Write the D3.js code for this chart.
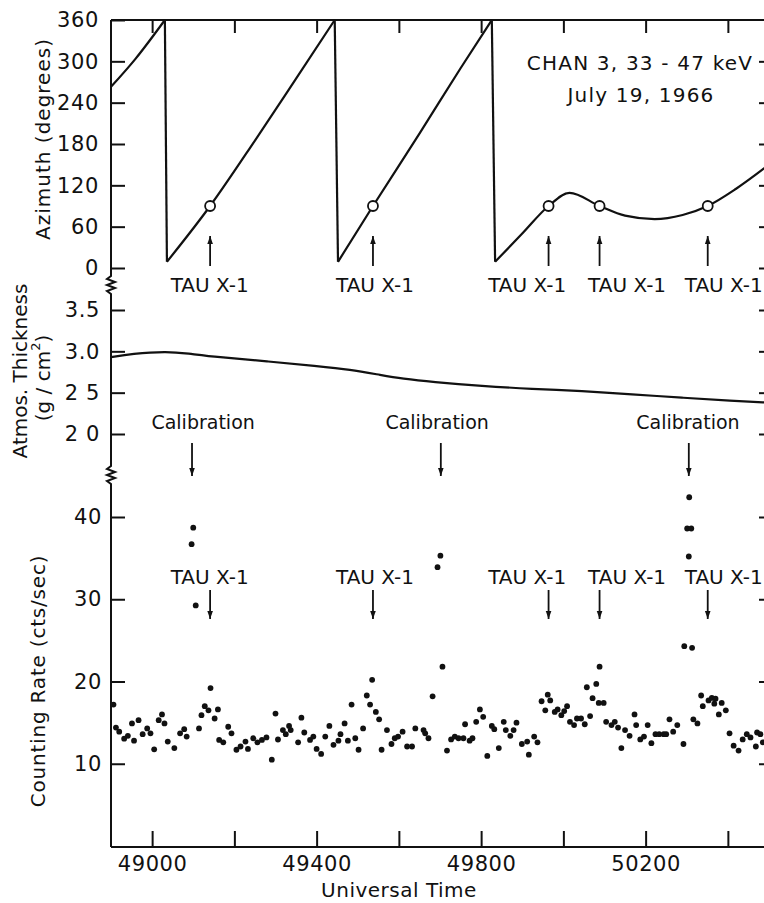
<!DOCTYPE html>
<html>
<head>
<meta charset="utf-8">
<title>Tau X-1 scan</title>
<style type="text/css">
  html, body {margin:0px; padding:0px; background:#fff;}
  svg {display:block; background:#fff;}
  text {font-family: "DejaVu Sans", sans-serif; fill:#111;}
</style>
</head>
<body>

<svg></svg>

<script src="https://d3js.org/d3.v7.min.js"></script>
<script type="text/javascript">

  // ---- data ----
  // azimuth (degrees) vs universal time, one array per sweep
  const azSweep1 = [[48900, 263], [48960, 304], [49031, 360]];
  const azSweep2 = [[49036, 9], [49141, 90], [49250, 185], [49350, 275], [49444, 360]];
  const azSweep3 = [[49452, 9], [49537, 90], [49650, 195], [49750, 290], [49826, 360]];
  const azSweep4 = [[49834, 9], [49900, 50], [49964, 90], [50015, 109], [50088, 90], [50150, 76],
                    [50222, 71], [50290, 77], [50351, 90], [50420, 115], [50500, 150]];

  // Tau X-1 crossings (circles + arrows) and label positions
  const tauTimes = [49141, 49537, 49964, 50088, 50351];
  const tauAzimuth = [90, 90, 90, 90, 90];
  const tauLabelTimes = [49140, 49542, 49912, 50155, 50390];

  // calibration marks
  const calTimes = [49097, 49702, 50305];
  const calLabelTimes = [49124, 49693, 50303];

  // atmospheric thickness (g/cm2)
  const atmTime = [48900, 48950, 49036, 49085, 49158, 49279, 49401, 49481, 49559, 49608,
                   49681, 49802, 49924, 50045, 50167, 50288, 50410, 50500];
  const atmValue = [2.93, 2.97, 3.0, 2.975, 2.93, 2.88, 2.82, 2.78, 2.71, 2.67,
                    2.63, 2.58, 2.545, 2.52, 2.48, 2.44, 2.40, 2.38];

  // counting rate (cts/sec)
  const countTime = [48906, 48912, 48920, 48932, 48941, 48951, 48956, 48967, 48977, 48988,
    48996, 49005, 49016, 49024, 49030, 49038, 49054, 49068, 49078, 49084,
    49096, 49100, 49106,
    49114, 49120, 49128, 49137, 49142, 49152, 49160, 49163, 49173, 49185,
    49193, 49205, 49215, 49227, 49233, 49246, 49256, 49267, 49278, 49291,
    49300, 49306, 49318, 49325, 49333, 49337, 49355, 49363, 49370, 49384,
    49392, 49400, 49411, 49421, 49431, 49441, 49453, 49458, 49468, 49476,
    49485, 49494, 49502, 49513, 49522, 49530, 49535, 49544, 49552, 49558,
    49571, 49582, 49590, 49598, 49609, 49620, 49632, 49640, 49660, 49664,
    49672, 49682, 49694, 49701, 49706, 49717, 49727, 49736, 49745, 49757, 49761,
    49772, 49779, 49788, 49797, 49805, 49815, 49826, 49832, 49843, 49855,
    49860, 49871, 49879, 49886, 49899, 49912, 49916, 49929, 49937, 49947,
    49956, 49962, 49968, 49979, 49986, 49995, 50002, 50009, 50016, 50026,
    50033, 50043, 50052, 50057, 50065, 50071, 50080, 50088, 50086, 50098,
    50104, 50117, 50125, 50133, 50141, 50150, 50161, 50173, 50177, 50187,
    50196, 50205, 50214, 50224, 50233, 50244, 50250, 50258, 50267, 50277,
    50292, 50294, 50301, 50305, 50306, 50311, 50313,
    50316, 50326, 50335, 50339, 50353, 50361, 50367, 50370, 50378,
    50385, 50395, 50404, 50414, 50426, 50436, 50446, 50455, 50468, 50471,
    50479, 50485];
  const countRate = [17.2, 14.4, 13.9, 13.05, 13.4, 14.9, 12.8, 15.3, 13.6, 14.3,
    13.7, 11.75, 15.3, 16.0, 14.9, 12.7, 11.9, 13.7, 14.2, 13.3,
    36.7, 38.7, 29.25,
    14.3, 15.9, 17.0, 16.5, 19.2, 15.5, 16.6, 12.9, 12.6, 14.5,
    13.7, 11.7, 12.1, 12.7, 11.8, 13.1, 12.6, 12.9, 13.2, 10.5,
    16.1, 12.95, 14.1, 13.6, 14.6, 14.1, 12.6, 15.6, 13.8, 12.9,
    13.3, 11.8, 11.2, 13.3, 14.6, 12.3, 12.8, 13.6, 14.9, 12.8,
    17.2, 13.1, 11.7, 14.3, 18.3, 17.2, 20.2, 16.3, 15.4, 11.7,
    14.1, 12.4, 13.1, 13.3, 13.9, 12.1, 12.1, 14.3, 14.1, 13.7,
    13.1, 18.2, 33.9, 35.3, 21.8, 11.6, 12.96, 13.3, 13.1, 13.1, 14.8,
    12.8, 13.1, 15.1, 16.6, 15.7, 10.95, 14.6, 14.2, 11.9, 15.1,
    14.1, 13.4, 14.1, 15.0, 12.4, 12.7, 11.1, 13.3, 12.6, 17.6,
    16.5, 18.4, 17.7, 16.3, 16.6, 15.9, 16.4, 17.0, 15.1, 14.7,
    15.5, 15.5, 14.8, 19.3, 15.8, 17.97, 19.7, 21.8, 17.4, 17.4,
    15.1, 14.7, 15.1, 14.4, 11.9, 14.1, 13.4, 16.0, 14.7, 12.96,
    13.3, 14.7, 12.5, 13.6, 13.6, 13.6, 13.6, 15.4, 13.9, 14.7,
    12.4, 24.3, 38.6, 35.2, 42.4, 38.6, 24.1,
    15.4, 14.9, 18.3, 17.0, 17.7, 18.0, 17.3, 17.9, 16.0,
    17.4, 16.5, 13.7, 12.2, 11.6, 12.96, 13.6, 13.2, 12.1, 13.8,
    13.6, 12.6];

  // ticks
  const azTicks = [0, 60, 120, 180, 240, 300, 360];
  const atmTicks = [2.0, 2.5, 3.0, 3.5];
  const atmTickLabels = ["2 0", "2 5", "3.0", "3.5"];
  const rateTicks = [10, 20, 30, 40];
  const timeTicks = [49000, 49200, 49400, 49600, 49800, 50000, 50200, 50400];
  const timeLabels = [49000, 49400, 49800, 50200];

  // ---- layout ----
  const W = 764, H = 903;
  const plotL = 111, plotR = 769, plotT = 20, plotB = 847;

  const svg = d3.select('svg').attr('width', W).attr('height', H);

  const x = d3.scaleLinear().domain([48900, 50500]).range([plotL, plotR]);
  const yAz = d3.scaleLinear().domain([0, 360]).range([268, plotT]);
  const yAt = d3.scaleLinear().domain([2.0, 3.5]).range([434, 310]);
  const yCr = d3.scaleLinear().domain([0, 40]).range([846, 517]);

  const ink = '#111';

  // arrow head
  svg.append('defs').append('marker')
    .attr('id', 'head')
    .attr('viewBox', '0 0 10 10')
    .attr('refX', 10).attr('refY', 5)
    .attr('markerUnits', 'userSpaceOnUse')
    .attr('markerWidth', 11).attr('markerHeight', 8)
    .attr('orient', 'auto')
    .append('path').attr('d', 'M0,1.5 L10,5 L0,8.5 z').attr('fill', ink);

  function styleAxis(g, size) {
    g.select('.domain').remove();
    g.selectAll('line').attr('stroke', ink).attr('stroke-width', 2);
    g.selectAll('text').style('font-family', '"DejaVu Sans", sans-serif')
      .style('font-size', size + 'px').style('letter-spacing', '0.6px').attr('fill', ink);
  }

  // frame: top + bottom + right
  svg.append('line').attr('x1', plotL).attr('x2', plotR).attr('y1', plotT).attr('y2', plotT)
    .attr('stroke', ink).attr('stroke-width', 2);
  svg.append('line').attr('x1', plotL).attr('x2', plotR).attr('y1', plotB).attr('y2', plotB)
    .attr('stroke', ink).attr('stroke-width', 2);
  svg.append('line').attr('x1', plotR).attr('x2', plotR).attr('y1', plotT).attr('y2', plotB)
    .attr('stroke', ink).attr('stroke-width', 2);

  // left axis line with two break marks
  function zig(y0, y1) {
    let s = '';
    const n = 6;
    for (let i = 1; i <= n; i++) {
      const yy = y0 + (y1 - y0) * i / n;
      const xx = i === n ? plotL : plotL + (i % 2 ? -4 : 4);
      s += 'L' + xx + ',' + yy;
    }
    return s;
  }
  const axisPath = 'M' + plotL + ',' + plotT + 'L' + plotL + ',' + 276 + zig(276, 294) +
    'L' + plotL + ',' + 466 + zig(466, 484) + 'L' + plotL + ',' + plotB;
  svg.append('path').attr('d', axisPath).attr('fill', 'none')
    .attr('stroke', ink).attr('stroke-width', 2);

  // x axes
  svg.append('g').attr('transform', 'translate(0,' + plotB + ')')
    .call(d3.axisBottom(x).tickValues(timeTicks).tickSize(-16).tickPadding(9)
      .tickFormat(d => timeLabels.includes(d) ? String(d) : ''))
    .call(g => styleAxis(g, 21));
  svg.append('g').attr('transform', 'translate(0,' + plotT + ')')
    .call(d3.axisTop(x).tickValues(timeTicks).tickSize(-13).tickFormat(''))
    .call(g => styleAxis(g, 21));

  // y axes, left and right, per panel
  svg.append('g').attr('transform', 'translate(' + plotL + ',0)')
    .call(d3.axisLeft(yAz).tickValues(azTicks).tickSize(-14).tickPadding(12))
    .call(g => styleAxis(g, 21));
  svg.append('g').attr('transform', 'translate(' + plotR + ',0)')
    .call(d3.axisRight(yAz).tickValues(azTicks.slice(0, -1)).tickSize(-10).tickFormat(''))
    .call(g => styleAxis(g, 21));

  svg.append('g').attr('transform', 'translate(' + plotL + ',0)')
    .call(d3.axisLeft(yAt).tickValues(atmTicks).tickSize(-14).tickPadding(11)
      .tickFormat((d, i) => atmTickLabels[i]))
    .call(g => styleAxis(g, 21));
  svg.append('g').attr('transform', 'translate(' + plotR + ',0)')
    .call(d3.axisRight(yAt).tickValues(atmTicks).tickSize(-10).tickFormat(''))
    .call(g => styleAxis(g, 21));

  svg.append('g').attr('transform', 'translate(' + plotL + ',0)')
    .call(d3.axisLeft(yCr).tickValues(rateTicks).tickSize(-14).tickPadding(9))
    .call(g => styleAxis(g, 21));
  svg.append('g').attr('transform', 'translate(' + plotR + ',0)')
    .call(d3.axisRight(yCr).tickValues(rateTicks).tickSize(-10).tickFormat(''))
    .call(g => styleAxis(g, 21));

  // ---- azimuth panel ----
  const sweeps = [azSweep1, azSweep2, azSweep3, azSweep4];
  const azLine = d3.line().x(d => x(d[0])).y(d => yAz(d[1])).curve(d3.curveMonotoneX);
  const straight = d3.line().x(d => x(d[0])).y(d => yAz(d[1]));
  sweeps.forEach(function(s, i) {
    svg.append('path').attr('d', azLine(s)).attr('fill', 'none')
      .attr('stroke', ink).attr('stroke-width', 2.2);
    if (i < sweeps.length - 1) {
      svg.append('path').attr('d', straight([s[s.length - 1], sweeps[i + 1][0]]))
        .attr('fill', 'none').attr('stroke', ink).attr('stroke-width', 2.2);
    }
  });

  svg.selectAll('circle.tau').data(tauTimes).enter().append('circle')
    .attr('class', 'tau')
    .attr('cx', d => x(d)).attr('cy', (d, i) => yAz(tauAzimuth[i]))
    .attr('r', 5).attr('fill', '#fff').attr('stroke', ink).attr('stroke-width', 1.8);

  // up arrows + labels under azimuth panel
  svg.selectAll('line.tauUp').data(tauTimes).enter().append('line')
    .attr('x1', d => x(d)).attr('x2', d => x(d))
    .attr('y1', 266).attr('y2', 236)
    .attr('stroke', ink).attr('stroke-width', 1.8).attr('marker-end', 'url(#head)');
  svg.selectAll('text.tauTop').data(tauLabelTimes).enter().append('text')
    .attr('x', d => x(d)).attr('y', 292)
    .attr('text-anchor', 'middle').style('font-size', '20px')
    .text('TAU X-1');

  svg.append('text').attr('x', 640).attr('y', 70).attr('text-anchor', 'middle')
    .style('font-size', '20px').style('letter-spacing', '1.2px').text('CHAN 3, 33 - 47 keV');
  svg.append('text').attr('x', 641).attr('y', 102).attr('text-anchor', 'middle')
    .style('font-size', '20px').style('letter-spacing', '1.2px').text('July 19, 1966');

  // ---- atmosphere panel ----
  const atmLine = d3.line().x(d => x(d[0])).y(d => yAt(d[1])).curve(d3.curveBasis);
  svg.append('path').attr('d', atmLine(d3.zip(atmTime, atmValue)))
    .attr('fill', 'none').attr('stroke', ink).attr('stroke-width', 2.2);

  // calibration marks
  svg.selectAll('text.cal').data(calLabelTimes).enter().append('text')
    .attr('x', d => x(d)).attr('y', 429)
    .attr('text-anchor', 'middle').style('font-size', '19px')
    .text('Calibration');
  svg.selectAll('line.cal').data(calTimes).enter().append('line')
    .attr('x1', d => x(d)).attr('x2', d => x(d))
    .attr('y1', 443).attr('y2', 476)
    .attr('stroke', ink).attr('stroke-width', 1.8).attr('marker-end', 'url(#head)');

  // ---- counting rate panel ----
  svg.selectAll('circle.pt').data(d3.zip(countTime, countRate)).enter().append('circle')
    .attr('class', 'pt')
    .attr('cx', d => x(d[0])).attr('cy', d => yCr(d[1]))
    .attr('r', 2.9).attr('fill', ink);

  svg.selectAll('text.tauBot').data(tauLabelTimes).enter().append('text')
    .attr('x', d => x(d)).attr('y', 584)
    .attr('text-anchor', 'middle').style('font-size', '20px')
    .text('TAU X-1');
  svg.selectAll('line.tauDown').data(tauTimes).enter().append('line')
    .attr('x1', d => x(d)).attr('x2', d => x(d))
    .attr('y1', 590).attr('y2', 619)
    .attr('stroke', ink).attr('stroke-width', 1.8).attr('marker-end', 'url(#head)');

  // ---- axis titles ----
  function vtext(cx, cy, size) {
    return svg.append('text')
      .attr('transform', 'translate(' + cx + ',' + cy + ') rotate(-90)')
      .attr('text-anchor', 'middle').attr('dominant-baseline', 'central')
      .style('font-size', size + 'px');
  }
  vtext(43, 139, 20).style('letter-spacing', '1px').text('Azimuth (degrees)');
  vtext(20, 371, 20).text('Atmos. Thickness');
  const gcm = vtext(43, 378, 20);
  gcm.append('tspan').text('(g / cm');
  gcm.append('tspan').attr('baseline-shift', 'super').style('font-size', '13px').text('2');
  gcm.append('tspan').text(')');
  vtext(38, 681, 20).style('letter-spacing', '0.8px').text('Counting Rate (cts/sec)');

  svg.append('text').attr('x', 399).attr('y', 897).attr('text-anchor', 'middle')
    .style('font-size', '20px').style('letter-spacing', '0.5px').text('Universal Time');

</script>
</body>
</html>
